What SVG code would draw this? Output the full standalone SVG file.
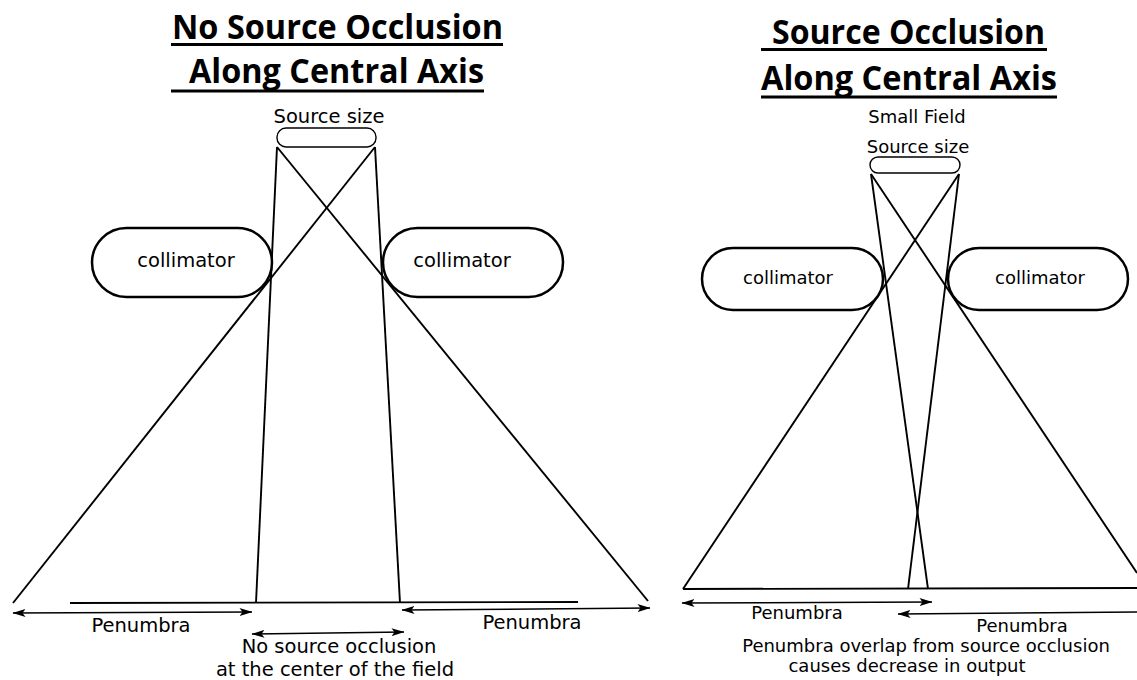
<svg xmlns="http://www.w3.org/2000/svg" width="1137" height="680" viewBox="0 0 1137 680">
  <style>
    .title { font-family: "Open Sans", Lato, "Liberation Sans", sans-serif; font-weight: bold; font-size: 34px; fill: #000; }
    .ul { stroke: #000; stroke-width: 3; }
    .lbl { font-family: "DejaVu Sans", sans-serif; font-size: 19.5px; fill: #000; text-anchor: middle; }
    .lbl2 { font-family: "DejaVu Sans", sans-serif; font-size: 18px; fill: #000; text-anchor: middle; }
    .pill { fill: #fff; stroke: #000; stroke-width: 2.5; }
    .src { fill: #fff; stroke: #000; stroke-width: 1.4; }
    .ray { stroke: #000; stroke-width: 1.9; fill: none; }
    .base { stroke: #000; stroke-width: 1.9; fill: none; }
    .arr { stroke: #000; stroke-width: 1.5; fill: none; }
  </style>
  <defs>
    <marker id="ah" viewBox="0 0 13 8" refX="12.5" refY="4" markerWidth="13" markerHeight="8" orient="auto-start-reverse" markerUnits="userSpaceOnUse">
      <path d="M0,0 L13,4 L0,8 L3,4 z" fill="#000"/>
    </marker>
  </defs>
  <rect width="1137" height="680" fill="#fff"/>

  <!-- Left titles -->
  <g id="title-left">
    <text class="title" x="172" y="39" textLength="331" lengthAdjust="spacingAndGlyphs">No Source Occlusion</text>
    <line class="ul" x1="171" y1="44.5" x2="503" y2="44.5"/>
    <text class="title" x="189" y="83" textLength="295" lengthAdjust="spacingAndGlyphs">Along Central Axis</text>
    <line class="ul" x1="171" y1="91" x2="484" y2="91"/>
  </g>

  <!-- Right titles -->
  <g id="title-right">
    <text class="title" x="772" y="44" textLength="273" lengthAdjust="spacingAndGlyphs">Source Occlusion</text>
    <line class="ul" x1="761" y1="49.5" x2="1047" y2="49.5"/>
    <text class="title" x="761" y="90" textLength="296" lengthAdjust="spacingAndGlyphs">Along Central Axis</text>
    <line class="ul" x1="761" y1="97" x2="1057" y2="97"/>
  </g>

  <!-- Connectors: rays, baselines, arrows -->
  <g id="connectors">
    <!-- left rays -->
    <line class="ray" x1="277" y1="147" x2="256" y2="603"/>
    <line class="ray" x1="375" y1="147" x2="400" y2="603"/>
    <line class="ray" x1="277" y1="147" x2="648" y2="601"/>
    <line class="ray" x1="375" y1="147" x2="13" y2="603"/>
    <line class="base" x1="70" y1="603" x2="578" y2="602"/>
    <!-- left arrows -->
    <line class="arr" x1="13" y1="613" x2="252" y2="612" marker-start="url(#ah)" marker-end="url(#ah)"/>
    <line class="arr" x1="252" y1="634" x2="404" y2="632" marker-start="url(#ah)" marker-end="url(#ah)"/>
    <line class="arr" x1="402" y1="610" x2="650" y2="608" marker-start="url(#ah)" marker-end="url(#ah)"/>

    <!-- right rays -->
    <line class="ray" x1="871" y1="174" x2="928" y2="589"/>
    <line class="ray" x1="959" y1="174" x2="908" y2="589"/>
    <line class="ray" x1="871" y1="174" x2="1137" y2="573"/>
    <line class="ray" x1="959" y1="174" x2="683" y2="589"/>
    <line class="base" x1="683" y1="589" x2="1137" y2="588"/>
    <!-- right arrows -->
    <line class="arr" x1="682" y1="603" x2="932" y2="602" marker-start="url(#ah)" marker-end="url(#ah)"/>
    <line class="arr" x1="898" y1="614" x2="1137" y2="612" marker-start="url(#ah)"/>
  </g>

  <!-- Left nodes -->
  <g id="source-left">
    <text class="lbl" x="329" y="123">Source size</text>
    <rect class="src" x="277" y="128" width="99" height="19" rx="9"/>
  </g>
  <g id="collimator-left-1">
    <rect class="pill" x="92" y="228" width="180" height="69" rx="34.5"/>
    <text class="lbl" x="186" y="267">collimator</text>
  </g>
  <g id="collimator-left-2">
    <rect class="pill" x="383" y="228" width="180" height="69" rx="34.5"/>
    <text class="lbl" x="462" y="267">collimator</text>
  </g>
  <g id="labels-left">
    <text class="lbl" x="141" y="632">Penumbra</text>
    <text class="lbl" x="532" y="629">Penumbra</text>
    <text class="lbl" x="339" y="653">No source occlusion</text>
    <text class="lbl" x="335" y="676">at the center of the field</text>
  </g>

  <!-- Right nodes -->
  <g id="source-right">
    <text class="lbl2" x="917" y="123">Small Field</text>
    <text class="lbl2" x="918" y="153">Source size</text>
    <rect class="src" x="870" y="157" width="90" height="16" rx="8"/>
  </g>
  <g id="collimator-right-1">
    <rect class="pill" x="702" y="248" width="181" height="62" rx="31"/>
    <text class="lbl2" x="788" y="284">collimator</text>
  </g>
  <g id="collimator-right-2">
    <rect class="pill" x="948" y="248" width="180" height="62" rx="31"/>
    <text class="lbl2" x="1040" y="284">collimator</text>
  </g>
  <g id="labels-right">
    <text class="lbl2" x="797" y="619">Penumbra</text>
    <text class="lbl2" x="1022" y="632">Penumbra</text>
    <text class="lbl2" x="926" y="652">Penumbra overlap from source occlusion</text>
    <text class="lbl2" x="907" y="672">causes decrease in output</text>
  </g>
</svg>
